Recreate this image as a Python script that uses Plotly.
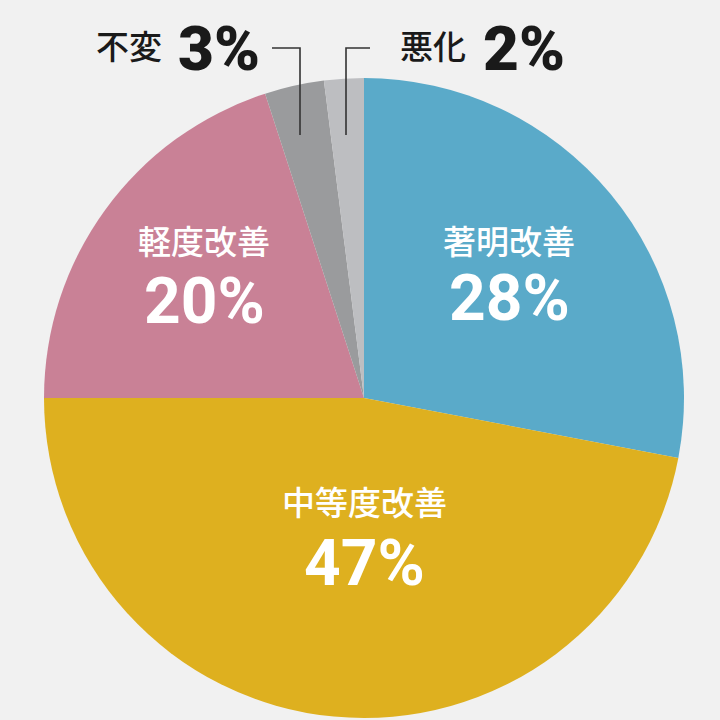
import plotly.graph_objects as go

# Data
labels = ["著明改善", "中等度改善", "軽度改善", "不変", "悪化"]
values = [28, 47, 20, 3, 2]
colors = ["#5aaac9", "#deb01f", "#c98196", "#9a9b9d", "#bdbec1"]

BG = "#f1f1f1"
W = H = 720
CX, CY, R = 364, 398, 320  # pie centre / radius in pixels (from top-left)

fig = go.Figure()

fig.add_trace(go.Pie(
    labels=labels,
    values=values,
    sort=False,
    direction="clockwise",
    rotation=0,
    marker=dict(colors=colors, line=dict(width=0)),
    textinfo="none",
    hoverinfo="label+percent",
    showlegend=False,
    domain=dict(
        x=[(CX - R) / W, (CX + R) / W],
        y=[(H - CY - R) / H, (H - CY + R) / H],
    ),
))


def px(x, y):
    return x / W, 1 - y / H


JP_FONT = "Noto Sans CJK JP"
NUM_FONT = "Roboto"

# inside labels: (name, value, x, y of name, y of value)
inside = [
    (labels[0], values[0], 509, 240, 298),
    (labels[2], values[2], 204, 240, 301),
    (labels[1], values[1], 364, 501, 563),
]
for name, val, x, y1, y2 in inside:
    ax, ay = px(x, y1)
    fig.add_annotation(x=ax, y=ay, xref="paper", yref="paper", text=name,
                       showarrow=False, xanchor="center", yanchor="middle",
                       font=dict(family=JP_FONT, size=33, color="white", weight=500))
    ax, ay = px(x, y2)
    fig.add_annotation(x=ax, y=ay, xref="paper", yref="paper", text=f"{val}%",
                       showarrow=False, xanchor="center", yanchor="middle",
                       font=dict(family=NUM_FONT, size=64, color="white", weight="bold"))

# outside labels for small slices
outside = [
    (labels[3], values[3], 164, 176),
    (labels[4], values[4], 468, 481),
]
for name, val, xn, xv in outside:
    ax, ay = px(xn, 45)
    fig.add_annotation(x=ax, y=ay, xref="paper", yref="paper", text=name,
                       showarrow=False, xanchor="right", yanchor="middle",
                       font=dict(family=JP_FONT, size=33, color="#1a1a1a", weight=500))
    ax, ay = px(xv, 49)
    fig.add_annotation(x=ax, y=ay, xref="paper", yref="paper", text=f"{val}%",
                       showarrow=False, xanchor="left", yanchor="middle",
                       font=dict(family=NUM_FONT, size=62, color="#1a1a1a", weight=900))

# leader lines
for pts in [[(272, 48), (300, 48), (300, 135)], [(370, 48), (346, 48), (346, 135)]]:
    path = "M " + " L ".join(f"{x/W} {1 - y/H}" for x, y in pts)
    fig.add_shape(type="path", path=path, xref="paper", yref="paper",
                  line=dict(color="#333333", width=1.6))

fig.update_layout(
    width=W,
    height=H,
    margin=dict(l=0, r=0, t=0, b=0),
    paper_bgcolor=BG,
    plot_bgcolor=BG,
)

fig.write_html("out.html", config={"displayModeBar": False},
               post_script="document.body.style.margin='0';")
